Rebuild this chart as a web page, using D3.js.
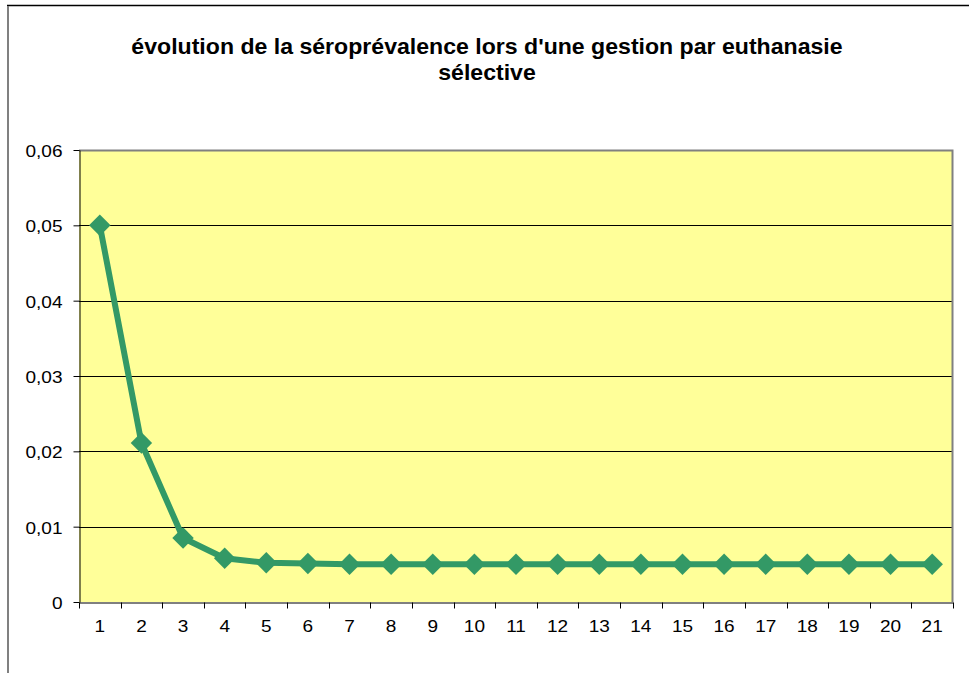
<!DOCTYPE html>
<html>
<head>
<meta charset="utf-8">
<script src="https://cdn.jsdelivr.net/npm/d3@7"></script>
<style>
  body { margin: 0; background: #fff; }
  svg { display: block; font-family: Arial, "Liberation Sans", sans-serif; }
</style>
</head>
<body>
<div id="chart"></div>
<script>
var titleLines = ["évolution de la séroprévalence lors d'une gestion par euthanasie", "sélective"];
var categories = ["1","2","3","4","5","6","7","8","9","10","11","12","13","14","15","16","17","18","19","20","21"];
var seroprevalence = [0.05, 0.0211, 0.0085, 0.0058, 0.0052, 0.0051, 0.005, 0.005, 0.005, 0.005, 0.005, 0.005, 0.005, 0.005, 0.005, 0.005, 0.005, 0.005, 0.005, 0.005, 0.005];
var yTicks = [0, 0.01, 0.02, 0.03, 0.04, 0.05, 0.06];

var width = 969, height = 673;
var plot = {left: 79, top: 150, right: 953, bottom: 602};
var sx = 1.12; // labels in the picture are drawn a bit wide

var svg = d3.select("#chart").append("svg").attr("width", width).attr("height", height);

// outer chart frame: black top edge, grey left edge, the rest is cut off
svg.append("line").attr("x1", 7).attr("x2", width).attr("y1", 5.5).attr("y2", 5.5)
    .attr("stroke", "#000").attr("stroke-width", 1.5);
svg.append("line").attr("x1", 8).attr("x2", 8).attr("y1", 6).attr("y2", height)
    .attr("stroke", "#808080").attr("stroke-width", 2);

var title = svg.append("text").attr("text-anchor", "middle")
    .attr("transform", "scale(1.05,1)")
    .style("font-weight", "bold").style("font-size", "22px");
titleLines.forEach(function(t, i) {
    title.append("tspan").attr("x", 487 / 1.05).attr("y", 54 + i * 26.5).text(t);
});

var x = d3.scaleBand().domain(categories).range([plot.left, plot.right]);
var y = d3.scaleLinear().domain([0, 0.06]).range([plot.bottom, plot.top]);

svg.append("rect").attr("x", plot.left).attr("y", plot.top)
    .attr("width", plot.right - plot.left).attr("height", plot.bottom - plot.top)
    .attr("fill", "#ffff99");

// gridlines
svg.append("g").selectAll("line").data(yTicks.filter(function(d) { return d > 0 && d < 0.06; }))
    .enter().append("line")
    .attr("x1", plot.left).attr("x2", plot.right)
    .attr("y1", function(d) { return Math.round(y(d)) + 0.5; })
    .attr("y2", function(d) { return Math.round(y(d)) + 0.5; })
    .attr("stroke", "#000").attr("stroke-width", 1);

// grey border top/right
svg.append("path")
    .attr("d", "M" + plot.left + "," + (plot.top + 0.5) + "H" + (plot.right - 0.5) + "V" + plot.bottom)
    .attr("fill", "none").attr("stroke", "#808080").attr("stroke-width", 2);

var fmt = function(d) { return d === 0 ? "0" : d3.format(".2f")(d).replace(".", ","); };

var yAxis = svg.append("g").attr("transform", "translate(" + (plot.left + 0.5) + ",0)")
    .call(d3.axisLeft(y).tickValues(yTicks).tickSize(6).tickSizeOuter(0).tickFormat(fmt));

// x axis, ticks at band edges
var xAxis = svg.append("g").attr("transform", "translate(0," + (plot.bottom + 0.5) + ")")
    .call(d3.axisBottom(x).tickSize(0));
xAxis.append("g").selectAll("line").data(categories.concat(["end"])).enter().append("line")
    .attr("x1", function(d, i) { return Math.round(plot.left + i * x.bandwidth()) + 0.5; })
    .attr("x2", function(d, i) { return Math.round(plot.left + i * x.bandwidth()) + 0.5; })
    .attr("y1", 0).attr("y2", 6).attr("stroke", "#000");

[yAxis, xAxis].forEach(function(a) {
    a.selectAll(".domain").attr("stroke", "#000");
    a.selectAll(".tick line").attr("stroke", "#000");
    a.selectAll("text").style("font-size", "17px").attr("fill", "#000")
        .style("font-family", "Arial, 'Liberation Sans', sans-serif")
        .attr("transform", "scale(" + sx + ",1)");
});
yAxis.selectAll("text").attr("x", -17 / sx).attr("dy", "0.38em");
xAxis.selectAll("text").attr("x", 0).attr("y", 17).attr("dy", "0.71em");

var pts = categories.map(function(c, i) { return [x(c) + x.bandwidth() / 2, y(seroprevalence[i])]; });

svg.append("path").datum(pts)
    .attr("d", d3.line())
    .attr("fill", "none").attr("stroke", "#339966").attr("stroke-width", 6)
    .attr("stroke-linejoin", "round");

svg.append("g").selectAll("path").data(pts).enter().append("path")
    .attr("d", d3.symbol().type(d3.symbolSquare).size(230))
    .attr("transform", function(d) { return "translate(" + d[0] + "," + d[1] + ") rotate(45)"; })
    .attr("fill", "#339966");
</script>
</body>
</html>
